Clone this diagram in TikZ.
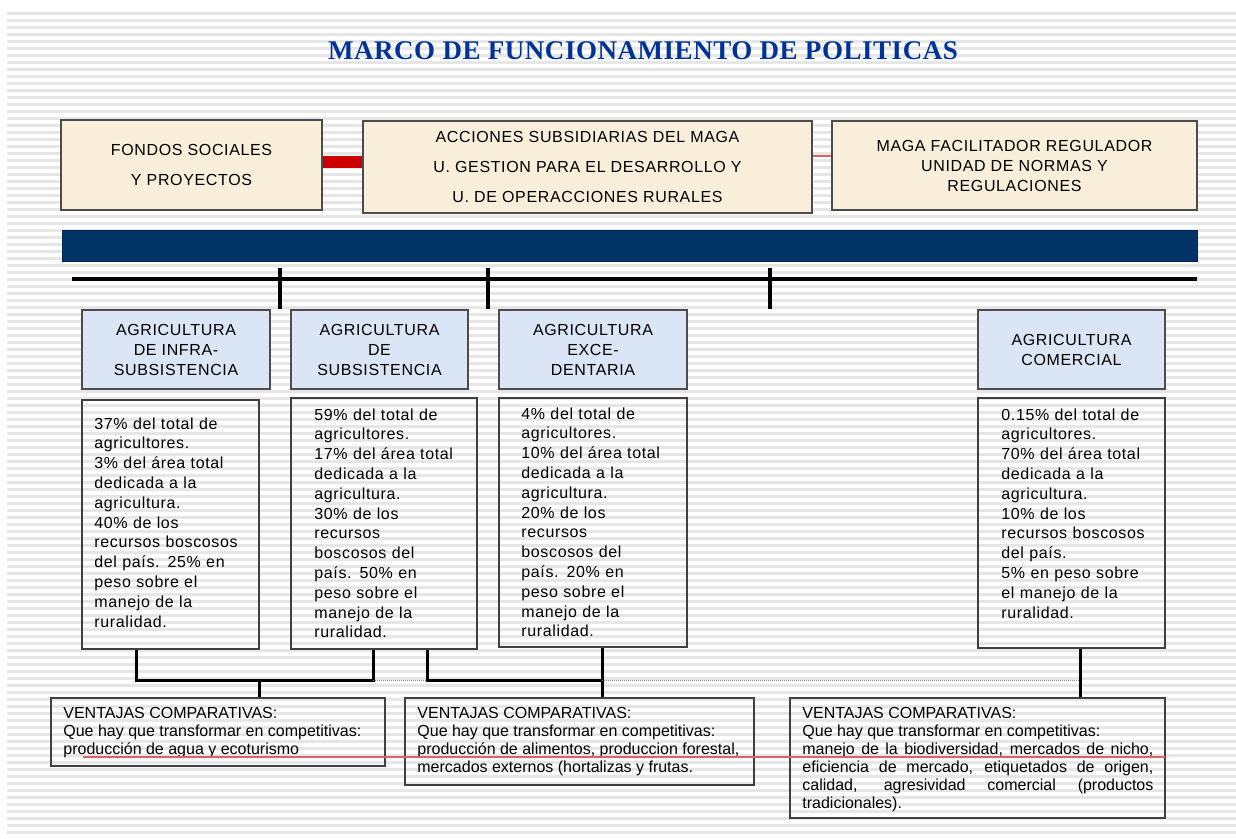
\documentclass[tikz,border=0pt]{standalone}
\usepackage{fontspec}
\usepackage{xcolor}
\usepackage{tikz}
\usetikzlibrary{calc, positioning}

\setmainfont{Liberation Sans}
\newfontfamily\boxfont[LetterSpace=4]{Liberation Sans}
\newfontfamily\titlefont[LetterSpace=2]{Liberation Serif}

\definecolor{titleblue}{HTML}{003399}
\definecolor{parchment}{HTML}{F9EEDA}
\definecolor{skyfill}{HTML}{DAE6F6}
\definecolor{navybar}{HTML}{003366}
\definecolor{stripegray}{HTML}{E6E6E6}
\definecolor{barred}{HTML}{CC0000}
\definecolor{thinred}{HTML}{E0606A}

\begin{document}
\begin{tikzpicture}[
    x=1pt, y=-1pt,
    thick
]
    \useasboundingbox (0,0) rectangle (1236,838);

    % Styles for blocks
    \tikzstyle{topbox} = [draw=black!70, line width=1.6pt, fill=parchment, rectangle, align=center, inner sep=0pt, font=\boxfont\fontsize{16}{20}\selectfont]
    \tikzstyle{headbox} = [draw=black!70, line width=1.6pt, fill=skyfill, rectangle, align=center, inner sep=0pt, font=\boxfont\fontsize{16}{20}\selectfont]
    \tikzstyle{databox} = [draw=black!75, line width=2pt, rectangle, inner sep=0pt]
    \tikzstyle{datatext} = [anchor=north west, inner sep=0pt, align=left, text width=170pt, font=\boxfont\fontsize{16}{19.8}\selectfont]
    \tikzstyle{ventbox} = [draw=black!75, line width=2pt, rectangle, inner sep=0pt]
    \tikzstyle{venttext} = [anchor=north west, inner sep=0pt, align=left, font=\fontsize{16}{18}\selectfont]
    \tikzstyle{link} = [line width=3pt, black]
    \tikzstyle{dotlink} = [line width=1pt, black!45, dash pattern=on 1pt off 1pt]
    \tikzstyle{bus} = [line width=4pt, black]

    % Striped background
    \foreach \sy in {0,...,117}
        \draw [stripegray, line width=2.2pt] (7,{13.5+7*\sy}) -- (1236,{13.5+7*\sy});

    % Title
    \node [font=\titlefont\bfseries\fontsize{27}{30}\selectfont, text=titleblue] (title) at (643,51) {MARCO DE FUNCIONAMIENTO DE POLITICAS};

    % Components

    % Top row
    \node [topbox, minimum width=261pt, minimum height=90pt] (Fondos) at (191.5,165) {FONDOS SOCIALES\\[10pt] Y PROYECTOS};
    \node [topbox, minimum width=449pt, minimum height=92pt] (Acciones) at (587.5,167) {ACCIONES SUBSIDIARIAS DEL MAGA\\[10pt] U. GESTION PARA EL DESARROLLO Y\\[10pt] U. DE OPERACCIONES RURALES};
    \node [topbox, minimum width=365pt, minimum height=89pt] (Maga) at (1014.5,165.5) {MAGA FACILITADOR REGULADOR\\ UNIDAD DE NORMAS Y\\ REGULACIONES};

    % Navy bar
    \node [fill=navybar, draw=navybar!80!black, line width=1pt, minimum width=1135pt, minimum height=31pt, inner sep=0pt] (bar) at (629.5,245.5) {};

    % Bus with ticks
    \coordinate (busW) at (72,279);
    \coordinate (busE) at (1197,279);
    \draw [bus] (busW) -- (busE);
    \foreach \tx in {280,488,770}
        \draw [bus] (\tx,268) -- (\tx,309);

    % Agriculture headers
    \node [headbox, minimum width=188pt, minimum height=79pt] (infraHead) at (176,349.5) {AGRICULTURA\\ DE INFRA-\\ SUBSISTENCIA};
    \node [headbox, minimum width=177pt, minimum height=79pt] (subHead) at (379.5,349.5) {AGRICULTURA\\ DE\\ SUBSISTENCIA};
    \node [headbox, minimum width=188pt, minimum height=79pt] (excHead) at (593,349.5) {AGRICULTURA\\ EXCE-\\ DENTARIA};
    \node [headbox, minimum width=187pt, minimum height=79pt] (comHead) at (1071.5,349.5) {AGRICULTURA\\ COMERCIAL};

    % Data boxes
    \node [databox, minimum width=177pt, minimum height=249pt] (infraData) at (170.5,524.5) {};
    \node [databox, minimum width=186pt, minimum height=251pt] (subData) at (384,523.5) {};
    \node [databox, minimum width=188pt, minimum height=249pt] (excData) at (593,522.5) {};
    \node [databox, minimum width=187pt, minimum height=250pt] (comData) at (1071.5,523) {};

    \node [datatext] (infraTxt) at (94,417) {37\% del total de\\ agricultores.\\ 3\% del área total\\ dedicada a la\\ agricultura.\\ 40\% de los\\ recursos boscosos\\ del país. 25\% en\\ peso sobre el\\ manejo de la\\ ruralidad.};
    \node [datatext] (subTxt) at (314,408) {59\% del total de\\ agricultores.\\ 17\% del área total\\ dedicada a la\\ agricultura.\\ 30\% de los\\ recursos\\ boscosos del\\ país. 50\% en\\ peso sobre el\\ manejo de la\\ ruralidad.};
    \node [datatext] (excTxt) at (521,407) {4\% del total de\\ agricultores.\\ 10\% del área total\\ dedicada a la\\ agricultura.\\ 20\% de los\\ recursos\\ boscosos del\\ país. 20\% en\\ peso sobre el\\ manejo de la\\ ruralidad.};
    \node [datatext] (comTxt) at (1001,408) {0.15\% del total de\\ agricultores.\\ 70\% del área total\\ dedicada a la\\ agricultura.\\ 10\% de los\\ recursos boscosos\\ del país.\\ 5\% en peso sobre\\ el manejo de la\\ ruralidad.};

    % Comparative advantages
    \node [ventbox, minimum width=334pt, minimum height=68pt] (Vent1) at (218,732) {};
    \node [ventbox, minimum width=349pt, minimum height=87pt] (Vent2) at (579.5,741.5) {};
    \node [ventbox, minimum width=375pt, minimum height=120pt] (Vent3) at (977.5,758) {};

    \node [venttext] (vent1Txt) at (63,707) {VENTAJAS COMPARATIVAS:\\ Que hay que transformar en competitivas:\\ producción de agua y ecoturismo};
    \node [venttext] (vent2Txt) at (417,707) {VENTAJAS COMPARATIVAS:\\ Que hay que transformar en competitivas:\\ producción de alimentos, produccion forestal,\\ mercados externos (hortalizas y frutas.};
    \node [venttext, text width=351pt, align=justify] (vent3Txt) at (802,707) {VENTAJAS COMPARATIVAS:\\ Que hay que transformar en competitivas:\\ manejo de la biodiversidad, mercados de nicho,\linebreak eficiencia de mercado, etiquetados de origen,\linebreak calidad, agresividad comercial (productos\linebreak tradicionales).};

    % Connections

    % 1. Red links between the top blocks
    \draw [barred, line width=12pt] ([yshift=3pt]Fondos.east) -- ([yshift=3pt]Fondos.east -| Acciones.west);
    \draw [thinred, line width=1.5pt] ([yshift=11pt]Acciones.east) -- ([yshift=11pt]Acciones.east -| Maga.west);

    % 2. Data boxes down to the advantages
    \coordinate (jInfra) at (136,680);
    \coordinate (jSubL) at (373,680);
    \coordinate (jSubR) at (427,680);
    \coordinate (jExc) at (602,680);
    \coordinate (jVent1) at (259,680);
    \coordinate (jCom) at (1080,680);

    \draw [link] (infraData.south -| jInfra) -- (jInfra) -- (jSubL) -- (subData.south -| jSubL);
    \draw [link] (jVent1) -- (Vent1.north -| jVent1);
    \draw [link] (subData.south -| jSubR) -- (jSubR) -- (jExc);
    \draw [link] (excData.south -| jExc) -- (Vent2.north -| jExc);
    \draw [link] (comData.south -| jCom) -- (Vent3.north -| jCom);
    \draw [dotlink] (jSubL) -- (jSubR);
    \draw [dotlink] (jExc) -- (jCom);

    % 3. Red line across the bottom
    \coordinate (redW) at (83,757);
    \coordinate (redE) at (1165,757);
    \draw [thinred, line width=1.5pt] (redW) -- (redE);

\end{tikzpicture}
\end{document}
